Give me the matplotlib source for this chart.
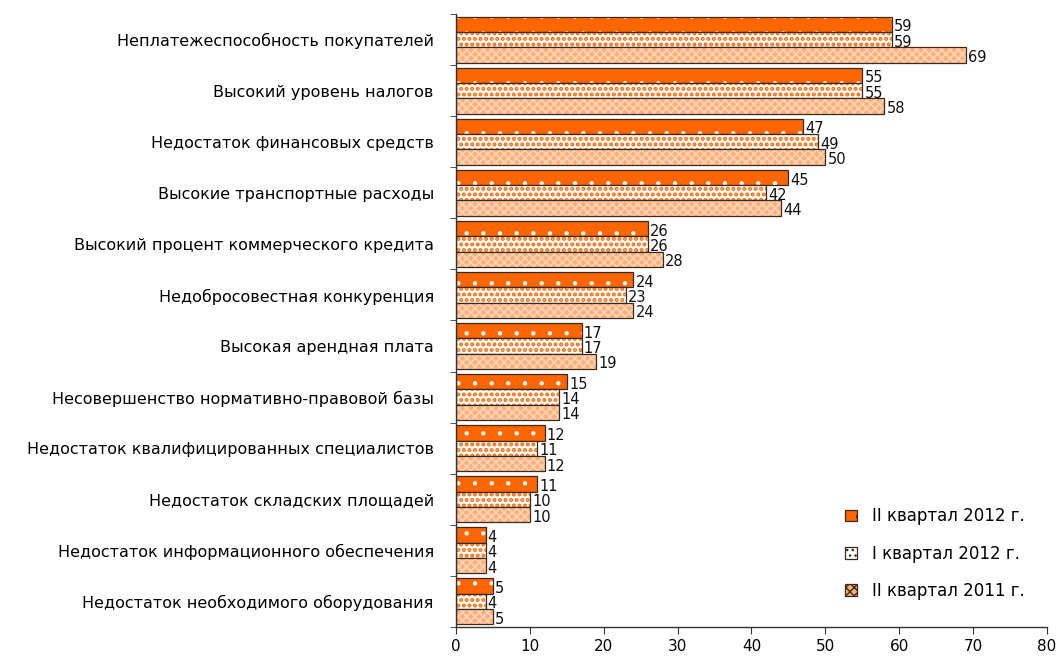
import matplotlib
matplotlib.use("Agg")
import matplotlib.pyplot as plt
import matplotlib.patches as mpatches
import numpy as np

categories = [
    "Неплатежеспособность покупателей",
    "Высокий уровень налогов",
    "Недостаток финансовых средств",
    "Высокие транспортные расходы",
    "Высокий процент коммерческого кредита",
    "Недобросовестная конкуренция",
    "Высокая арендная плата",
    "Несовершенство нормативно-правовой базы",
    "Недостаток квалифицированных специалистов",
    "Недостаток складских площадей",
    "Недостаток информационного обеспечения",
    "Недостаток необходимого оборудования",
]
q2_2012 = [59, 55, 47, 45, 26, 24, 17, 15, 12, 11, 4, 5]
q1_2012 = [59, 55, 49, 42, 26, 23, 17, 14, 11, 10, 4, 4]
q2_2011 = [69, 58, 50, 44, 28, 24, 19, 14, 12, 10, 4, 5]
series_names = ["II квартал 2012 г.", "I квартал 2012 г.", "II квартал 2011 г."]
xticks = [0, 10, 20, 30, 40, 50, 60, 70, 80]

fig = plt.figure(figsize=(10.58, 6.57), dpi=100)
ax = fig.add_axes([0.431, 0.0457, 0.5586, 0.933])

n = len(categories)
y = np.arange(n)
h = 0.3
styles = [
    dict(face="#FF6600", hatch=".", hcol="white", hlw=0.7),
    dict(face="white", hatch="...", hcol="#FF6600", hlw=2.0),
    dict(face="#FFB07A", hatch="xxxx", hcol="#FFD5B8", hlw=1.2),
]
data = [q2_2012, q1_2012, q2_2011]
offsets = [-h, 0, h]
handles = []
for vals, st, off, name in zip(data, styles, offsets, series_names):
    with plt.rc_context({'hatch.linewidth': st["hlw"]}):
        bars = ax.barh(y + off, vals, height=h, color=st["face"], edgecolor=st["hcol"],
                       hatch=st["hatch"], linewidth=0)
        handles.append(mpatches.Patch(facecolor=st["face"], edgecolor="#3a2a1a",
                                      hatch=st["hatch"], linewidth=0.9, label=name))
    for b in bars:
        try:
            b.set_hatch_linewidth(st["hlw"])
        except Exception:
            pass
    ax.barh(y + off, vals, height=h, fill=False, edgecolor="#3a2a1a", linewidth=0.9)
    for yi, v in zip(y + off, vals):
        ax.text(v + 0.3, yi + 0.05, str(v), va="center", ha="left", fontsize=10.5,
                family=["Liberation Sans Narrow", "DejaVu Sans"], color="#111111")

ax.set_ylim(n - 0.5, -0.5)
ax.set_xlim(0, 80)
ax.set_xticks(xticks)
ax.set_xticklabels([str(t) for t in xticks], fontsize=11, family="DejaVu Sans")
ax.set_yticks(y)
ax.set_yticklabels(categories, fontsize=11.5, family="DejaVu Sans")
ax.tick_params(axis="y", which="major", length=0, pad=16)
ax.set_yticks(np.arange(-0.5, n + 0.5, 1), minor=True)
ax.tick_params(axis="y", which="minor", length=4, direction="out", color="#333333")
ax.tick_params(axis="x", which="major", length=5, direction="out", pad=4, color="#333333")
for s in ["top", "right"]:
    ax.spines[s].set_visible(False)
for s in ["left", "bottom"]:
    ax.spines[s].set_color("#333333")
    ax.spines[s].set_linewidth(1.0)

leg = ax.legend(handles=handles, loc="lower left", bbox_to_anchor=(0.633, 0.02),
                frameon=False, fontsize=12, handlelength=0.7, handleheight=0.7,
                labelspacing=1.15, handletextpad=0.9)
fig.savefig("out.png", dpi=100)
